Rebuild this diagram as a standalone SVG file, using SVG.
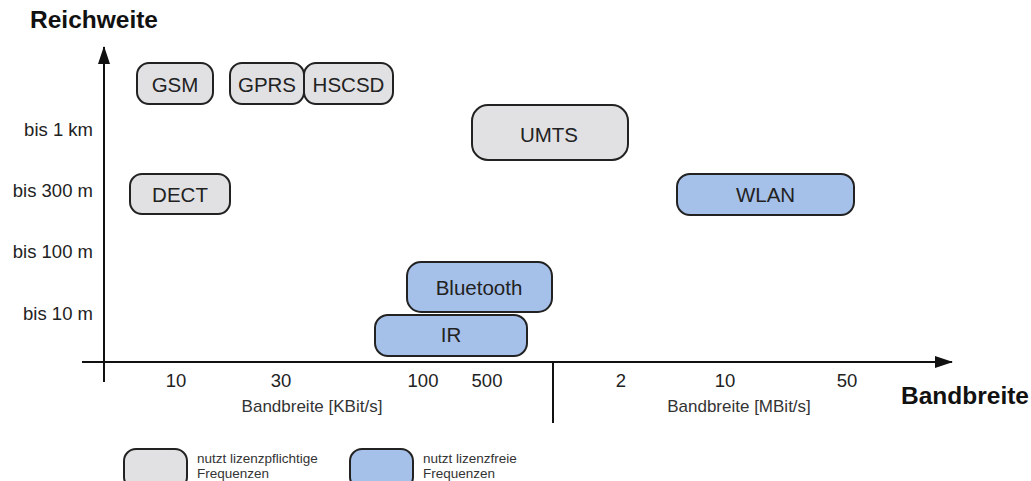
<svg xmlns="http://www.w3.org/2000/svg" width="1031" height="481" viewBox="0 0 1031 481">
  <style>
    .lic rect { fill: #e1e1e4; stroke: #222; stroke-width: 2; }
    .free rect { fill: #a5c0e9; stroke: #222; stroke-width: 2; }
    .lbl { font-family: "Liberation Sans", Arial, sans-serif; font-size: 20.500px; fill: #222; text-anchor: middle; }
    .tick { font-family: "Liberation Sans", Arial, sans-serif; font-size: 18.500px; fill: #222; text-anchor: middle; }
    .ylab { font-family: "Liberation Sans", Arial, sans-serif; font-size: 18.500px; fill: #222; text-anchor: end; }
    .unit { font-family: "Liberation Sans", Arial, sans-serif; font-size: 17px; fill: #333; text-anchor: middle; }
    .title { font-family: "Liberation Sans", Arial, sans-serif; font-size: 24.500px; font-weight: bold; fill: #111; }
    .leg { font-family: "Liberation Sans", Arial, sans-serif; font-size: 13.500px; fill: #333; }
    .axis { stroke: #111; stroke-width: 2; fill: none; }
  </style>
  <defs>
    <marker id="arrow" viewBox="0 0 18 12" refX="17" refY="6" markerWidth="18" markerHeight="12" markerUnits="userSpaceOnUse" orient="auto">
      <path d="M0,0 L18,6 L0,12 z" fill="#111"/>
    </marker>
  </defs>

  <rect width="1031" height="481" fill="#fff"/>

  <!-- axes -->
  <g id="axes">
    <line class="axis" x1="104" y1="382" x2="104" y2="47" marker-end="url(#arrow)"/>
    <line class="axis" x1="82" y1="362" x2="952" y2="362" marker-end="url(#arrow)"/>
    <line class="axis" x1="553" y1="362" x2="553" y2="423"/>
  </g>

  <!-- axis titles -->
  <text class="title" x="30" y="28">Reichweite</text>
  <text class="title" x="901" y="404">Bandbreite</text>

  <!-- range labels -->
  <text class="ylab" x="93" y="136">bis 1 km</text>
  <text class="ylab" x="93" y="197">bis 300 m</text>
  <text class="ylab" x="93" y="258">bis 100 m</text>
  <text class="ylab" x="93" y="320">bis 10 m</text>

  <!-- bandwidth ticks -->
  <text class="tick" x="176" y="387">10</text>
  <text class="tick" x="281" y="387">30</text>
  <text class="tick" x="423" y="387">100</text>
  <text class="tick" x="487" y="387">500</text>
  <text class="tick" x="621" y="387">2</text>
  <text class="tick" x="725" y="387">10</text>
  <text class="tick" x="847" y="387">50</text>
  <text class="unit" x="312" y="412">Bandbreite [KBit/s]</text>
  <text class="unit" x="739" y="412">Bandbreite [MBit/s]</text>

  <!-- technologies -->
  <g id="gsm" class="lic">
    <rect x="137" y="63" width="76" height="41" rx="12"/>
    <text class="lbl" x="175" y="92">GSM</text>
  </g>
  <g id="gprs" class="lic">
    <rect x="230" y="63" width="74" height="41" rx="12"/>
    <text class="lbl" x="267" y="92">GPRS</text>
  </g>
  <g id="hscsd" class="lic">
    <rect x="304" y="63" width="89" height="41" rx="12"/>
    <text class="lbl" x="348.500" y="92">HSCSD</text>
  </g>
  <g id="umts" class="lic">
    <rect x="472" y="105" width="156" height="55" rx="16"/>
    <text class="lbl" x="549" y="142">UMTS</text>
  </g>
  <g id="dect" class="lic">
    <rect x="130" y="174" width="100" height="40" rx="12"/>
    <text class="lbl" x="180" y="202">DECT</text>
  </g>
  <g id="wlan" class="free">
    <rect x="677" y="174" width="177" height="41" rx="13"/>
    <text class="lbl" x="765.500" y="202">WLAN</text>
  </g>
  <g id="bluetooth" class="free">
    <rect x="407" y="262" width="145" height="50" rx="14"/>
    <text class="lbl" x="479" y="295">Bluetooth</text>
  </g>
  <g id="ir" class="free">
    <rect x="375" y="315" width="152" height="41" rx="13"/>
    <text class="lbl" x="451" y="342">IR</text>
  </g>

  <!-- legend -->
  <g id="legend-licensed" class="lic">
    <rect x="124" y="449" width="63" height="40" rx="12"/>
    <text class="leg" x="197" y="463">nutzt lizenzpflichtige</text>
    <text class="leg" x="197" y="478">Frequenzen</text>
  </g>
  <g id="legend-free" class="free">
    <rect x="350" y="449" width="63" height="40" rx="12"/>
    <text class="leg" x="423" y="463">nutzt lizenzfreie</text>
    <text class="leg" x="423" y="478">Frequenzen</text>
  </g>
</svg>
